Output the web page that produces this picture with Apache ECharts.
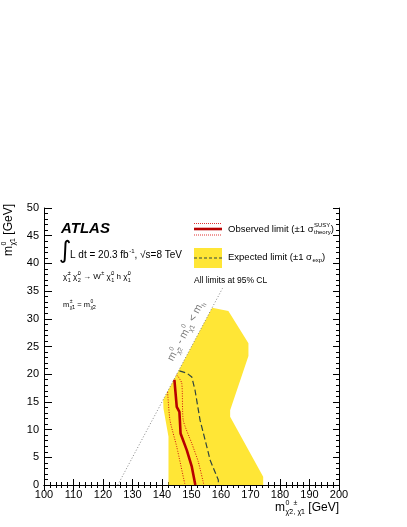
<!DOCTYPE html>
<html>
<head>
<meta charset="utf-8">
<script src="https://cdn.jsdelivr.net/npm/echarts@6/dist/echarts.min.js"></script>
<style>html,body{margin:0;padding:0;background:#fff}#chart{width:407px;height:527px}</style>
</head>
<body>
<div id="chart"></div>
<script>
// expected limit +-1 sigma band (closed polygon)
const bandX = [157.0, 162.5, 169.3, 169.3, 163.1, 163.1, 174.3, 174.3, 142.2, 142.2, 140.5, 140.4]
const bandY = [32.0, 31.4, 25.6, 23.3, 13.5, 12.3, 1.5, 0, 0, 8.7, 13.8, 15.4]
// expected limit (dashed)
const expX = [145.9, 148.4, 150.1, 151.2, 152.9, 155.2, 156.3, 159.1, 159.1]
const expY = [20.6, 20.2, 19.5, 17.1, 11.7, 6.9, 4.5, 0.9, 0]
// observed limit
const obsX = [144.2, 145.0, 145.9, 146.3, 148.4, 150.1, 151.3]
const obsY = [19.0, 14.1, 13.2, 9.3, 6.3, 3.3, 0]
// observed -1 sigma theory
const obsDnX = [141.9, 142.7, 145.0, 147.8]
const obsDnY = [16.8, 11.7, 6.9, 0]
// observed +1 sigma theory
const obsUpX = [145.0, 146.7, 147.2, 150.1, 152.3, 154.2]
const obsUpY = [19.9, 18.4, 11.7, 7.5, 4.2, 0]
// kinematic boundary m(chi2) - m(chi1) = m(h)
const diagX = [125, 160.5]
const diagY = [0, 35.5]

const zip = (xs, ys) => xs.map((x, i) => [x, ys[i]])
const FONT = 'Liberation Sans'
const CHI = 'χ\u0303'

// text with stacked sub/superscripts, ROOT style
const ctx = document.createElement('canvas').getContext('2d')
function tw (s, size) {
  ctx.font = size + 'px ' + FONT
  return ctx.measureText(s).width
}
function mathText (x, y, pieces, size, opts) {
  opts = opts || {}
  const color = opts.color || '#000'
  const small = opts.small || size * 0.6
  const els = []
  let cx = 0
  pieces.forEach(([t, sub, sup]) => {
    if (t) {
      els.push({ type: 'text', x: cx, y: 0, style: { text: t, font: size + 'px ' + FONT, fill: color, verticalAlign: 'middle' } })
      cx += tw(t, size)
    }
    let w = 0
    if (sub) {
      els.push({ type: 'text', x: cx + 0.5, y: size * 0.38, style: { text: sub, font: small + 'px ' + FONT, fill: color, verticalAlign: 'middle' } })
      w = tw(sub, small) + 0.5
    }
    if (sup) {
      els.push({ type: 'text', x: cx + 0.5, y: -size * 0.4, style: { text: sup, font: small + 'px ' + FONT, fill: color, verticalAlign: 'middle' } })
      w = Math.max(w, tw(sup, small) + 0.5)
    }
    cx += w
  })
  let shift = 0
  if (opts.align === 'right') shift = -cx
  if (opts.align === 'center') shift = -cx / 2
  els.forEach(e => { e.x += shift })
  return { type: 'group', x: x, y: y, rotation: opts.rotation || 0, children: els }
}

const chart = echarts.init(document.getElementById('chart'))

const axisCommon = {
  type: 'value',
  axisLine: { show: true, lineStyle: { color: '#000', width: 1 } },
  splitLine: { show: false },
  minorSplitLine: { show: false }
}

const option = {
  animation: false,
  backgroundColor: '#fff',
  textStyle: { fontFamily: FONT },
  grid: { left: 44, right: 68, top: 208, bottom: 42 },
  xAxis: [
    Object.assign({}, axisCommon, {
      min: 100, max: 200, interval: 10, position: 'bottom',
      axisTick: { inside: true, length: 6, lineStyle: { color: '#000' } },
      minorTick: { show: true, splitNumber: 5, length: 3, lineStyle: { color: '#000' } },
      axisLabel: { color: '#000', fontSize: 11, margin: 4 }
    }),
    Object.assign({}, axisCommon, {
      min: 100, max: 200, interval: 10, position: 'top',
      axisTick: { inside: true, length: 6, lineStyle: { color: '#000' } },
      minorTick: { show: true, splitNumber: 5, length: 3, lineStyle: { color: '#000' } },
      axisLabel: { show: false }
    })
  ],
  yAxis: [
    Object.assign({}, axisCommon, {
      min: 0, max: 50, interval: 5, position: 'left',
      axisTick: { inside: true, length: 8, lineStyle: { color: '#000' } },
      minorTick: { show: true, splitNumber: 5, length: 4, lineStyle: { color: '#000' } },
      axisLabel: { color: '#000', fontSize: 11, margin: 5 }
    }),
    Object.assign({}, axisCommon, {
      min: 0, max: 50, interval: 5, position: 'right',
      axisTick: { inside: true, length: 6, lineStyle: { color: '#000' } },
      minorTick: { show: true, splitNumber: 5, length: 3, lineStyle: { color: '#000' } },
      axisLabel: { show: false }
    })
  ],
  series: [
    {
      type: 'custom',
      name: 'band',
      data: zip(bandX, bandY),
      renderItem: function (params, api) {
        if (params.dataIndex !== 0) return
        const pts = zip(bandX, bandY).map(p => api.coord(p))
        return { type: 'polygon', shape: { points: pts }, style: { fill: '#ffe636', stroke: 'none' } }
      },
      z: 1
    },
    {
      type: 'line', data: zip(diagX, diagY), showSymbol: false, z: 2,
      lineStyle: { color: '#666', width: 0.8, type: [1, 2] }
    },
    {
      type: 'line', data: zip(expX, expY), showSymbol: false, z: 3,
      lineStyle: { color: '#2f4440', width: 1.2, type: [6, 3] }
    },
    {
      type: 'line', data: zip(obsDnX, obsDnY), showSymbol: false, z: 3, smooth: 0.2,
      lineStyle: { color: '#d01010', width: 1, type: [1, 1.5] }
    },
    {
      type: 'line', data: zip(obsUpX, obsUpY), showSymbol: false, z: 3, smooth: 0.2,
      lineStyle: { color: '#d01010', width: 1, type: [1, 1.5] }
    },
    {
      type: 'line', data: zip(obsX, obsY), showSymbol: false, z: 4,
      lineStyle: { color: '#b80000', width: 2.6 }
    }
  ],
  graphic: [
    // ATLAS label block
    { type: 'text', x: 61, y: 229, style: { text: 'ATLAS', font: 'italic bold 15px ' + FONT, fill: '#000', verticalAlign: 'middle' } },
    { type: 'text', x: 59, y: 252, style: { text: '∫', font: '24px DejaVu Sans', fill: '#000', verticalAlign: 'middle' } },
    mathText(70, 255, [['L dt = 20.3 fb', null, '-1'], [', √s=8 TeV']], 10),
    mathText(63, 277, [[CHI, '1', '±'], [' ' + CHI, '2', '0'], [' → W', null, '±'], [' ' + CHI, '1', '0'], [' h ' + CHI, '1', '0']], 8, { small: 5.5 }),
    mathText(63, 305, [['m', CHI + '1', '±'], [' = m', CHI + '2', '0']], 7.5, { small: 5 }),
    // legend: observed
    { type: 'line', shape: { x1: 194, y1: 223.5, x2: 222, y2: 223.5 }, style: { stroke: '#e03030', lineWidth: 1, lineDash: [1, 1] } },
    { type: 'line', shape: { x1: 194, y1: 235, x2: 222, y2: 235 }, style: { stroke: '#e03030', lineWidth: 1, lineDash: [1, 1] } },
    { type: 'line', shape: { x1: 194, y1: 229, x2: 222, y2: 229 }, style: { stroke: '#b80000', lineWidth: 2.6 } },
    mathText(228, 229, [['Observed limit (±1 σ', 'theory', 'SUSY'], [')']], 9.5, { small: 6 }),
    // legend: expected
    { type: 'rect', shape: { x: 194, y: 248, width: 28, height: 20 }, style: { fill: '#ffe636' } },
    { type: 'line', shape: { x1: 194, y1: 258, x2: 222, y2: 258 }, style: { stroke: '#2f4440', lineWidth: 1.2, lineDash: [3, 2] } },
    mathText(228, 257, [['Expected limit (±1 σ', 'exp'], [')']], 9.5, { small: 6 }),
    { type: 'text', x: 194, y: 281, style: { text: 'All limits at 95% CL', font: '8.5px ' + FONT, fill: '#000', verticalAlign: 'middle' } },
    // kinematic boundary label
    mathText(186, 331, [['m', CHI + '2', '0'], [' - m', CHI + '1', '0'], [' < m', 'h']], 10.5, { color: '#777', small: 6.5, align: 'center', rotation: 1.08 }),
    // axis titles
    mathText(9, 204, [['m', CHI + '1', '0'], [' [GeV]']], 12, { small: 7, align: 'right', rotation: Math.PI / 2 }),
    mathText(339, 508, [['m', CHI + '2', '0'], [null, ', ' + CHI + '1', '±'], [' [GeV]']], 12, { small: 7, align: 'right' })
  ]
}

chart.setOption(option)
window.addEventListener('resize', () => {
  chart.resize()
})
</script>
</body>
</html>
